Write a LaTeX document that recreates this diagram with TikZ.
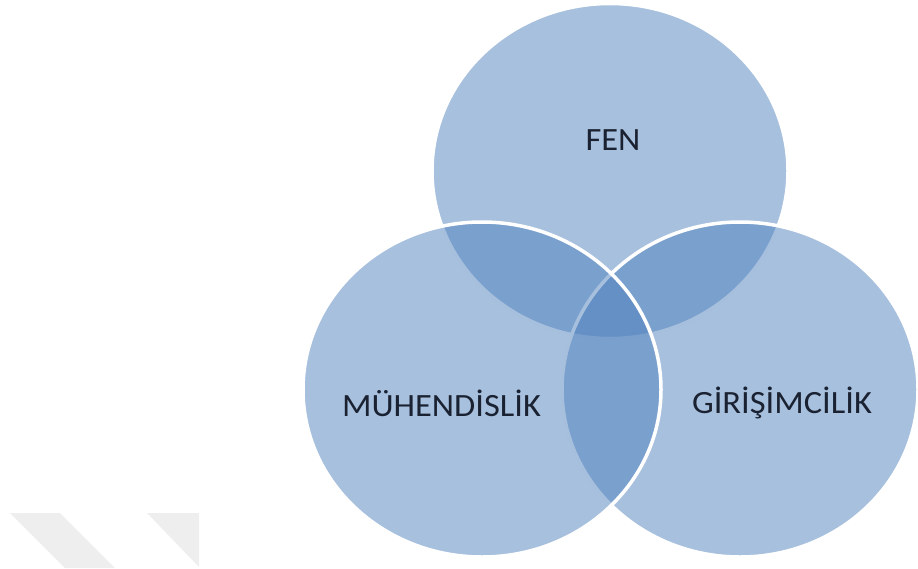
\documentclass[tikz,border=0pt]{standalone}
\usepackage{fontspec}
\setmainfont{Carlito}
\definecolor{accent}{HTML}{4F81BD}
\definecolor{txt}{HTML}{1A2232}
\definecolor{wm}{HTML}{EEEEEE}
\tikzset{
  venn/.style={fill=accent, fill opacity=0.5},
  vennline/.style={draw=white, line width=3.5pt},
  lbl/.style={font=\fontsize{32.5}{36}\selectfont, text=txt, inner sep=0pt, anchor=center},
}
\begin{document}
\begin{tikzpicture}[x=1pt,y=-1pt]
\useasboundingbox (0,0) rectangle (918,568);
% watermark shapes
\fill[wm] (10,513) -- (60,513) -- (115,568) -- (65,568) -- cycle;
\fill[wm] (147,513) -- (199,513) -- (199,567) -- cycle;
% top circle
\fill[venn] (610,171) ellipse [x radius=178pt, y radius=167.5pt];
\draw[vennline] (610,171) ellipse [x radius=178pt, y radius=167.5pt];
% right circle
\fill[venn] (740,389.5) ellipse [x radius=178pt, y radius=167.5pt];
\draw[vennline] (740,389.5) ellipse [x radius=178pt, y radius=167.5pt];
% left circle
\fill[venn] (482,389.5) ellipse [x radius=179pt, y radius=167.5pt];
\draw[vennline] (482,389.5) ellipse [x radius=179pt, y radius=167.5pt];
% labels
\node[lbl] (fen) at (613,140) {\scalebox{1.06}[1]{FEN}};
\node[lbl] (muh) at (441.5,403) {\scalebox{1.06}[1]{MÜHENDİSLİK}};
\node[lbl] (gir) at (782,403) {\scalebox{1.06}[1]{GİRİŞİMCİLİK}};
\end{tikzpicture}
\end{document}
